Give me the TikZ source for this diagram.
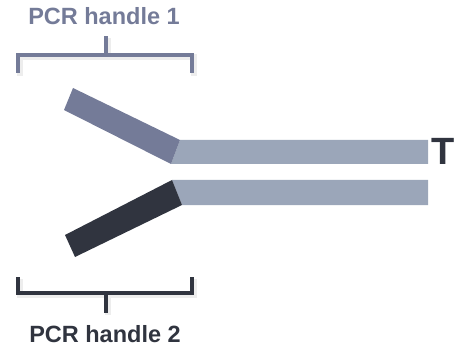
\documentclass[tikz,border=0pt]{standalone}
\usepackage{fontspec}
\setmainfont{Liberation Sans}
\definecolor{slate}{HTML}{747B98}
\definecolor{ink}{HTML}{30343F}
\definecolor{stem}{HTML}{9BA6B9}
\begin{document}
\begin{tikzpicture}[x=1pt,y=-1pt,
  label/.style={font=\bfseries\fontsize{23.5}{25}\selectfont, inner sep=0pt, anchor=base},
  bracket/.style={line width=4pt, line cap=butt, line join=miter},
  shade/.style={line width=6pt, draw=black, opacity=0.07}]
\useasboundingbox (0,0) rectangle (462,347);

% double-stranded stem
\fill[stem] (180,140) -- (428,140) -- (428,164) -- (171,164) -- cycle;
\fill[stem] (172,180) -- (428,180) -- (428,205) -- (182,205) -- cycle;

% single-stranded handles
\fill[slate] (73,88) -- (180,140) -- (171,164) -- (64,110) -- cycle;
\fill[ink] (172,180) -- (182,205) -- (75,257) -- (65,235) -- cycle;

% labels
\node[label, text=slate] (h1) at (104,25) {PCR handle 1};
\node[label, text=ink] (h2) at (105,342) {PCR handle 2};
\node[font=\bfseries\fontsize{38}{40}\selectfont, inner sep=0pt, anchor=base, text=ink] (t) at (443.5,165) {T};

% brackets with a soft shadow
\draw[shade] (20,76) -- (20,57) -- (194,57) -- (194,76) (108,57) -- (108,38);
\draw[bracket, draw=slate] (18,73) -- (18,55) -- (192,55) -- (192,73) (106,55) -- (106,36);
\draw[shade] (20,279) -- (20,295) -- (194,295) -- (194,279) (108,295) -- (108,315);
\draw[bracket, draw=ink] (18,277) -- (18,293) -- (192,293) -- (192,277) (106,293) -- (106,313);
\end{tikzpicture}
\end{document}
